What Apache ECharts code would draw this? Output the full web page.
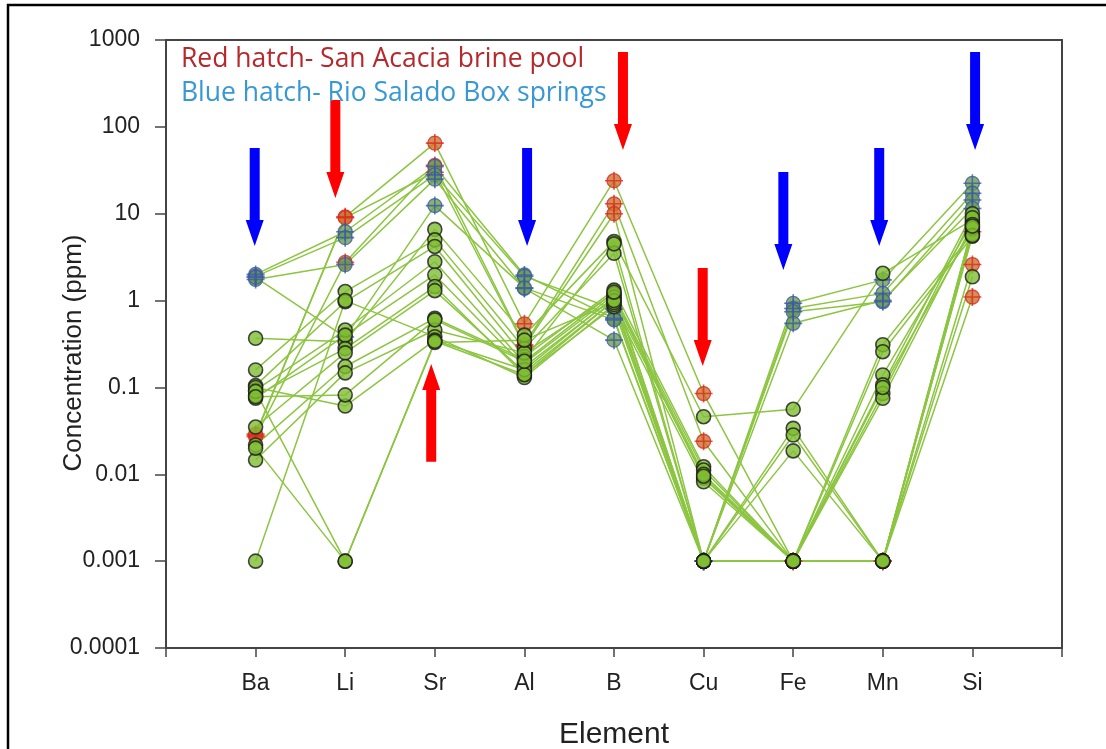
<!DOCTYPE html>
<html><head><meta charset="utf-8">
<script src="https://cdn.jsdelivr.net/npm/echarts@6/dist/echarts.min.js"></script>
<style>html,body{margin:0;padding:0;background:#fff}#chart{width:1106px;height:749px}</style>
</head><body><div id="chart"></div>
<script>
// Categories (x axis)
const elements = ['Ba', 'Li', 'Sr', 'Al', 'B', 'Cu', 'Fe', 'Mn', 'Si'];
// Y tick labels (log axis, 1e-4 .. 1e3)
const yTickLabels = ['0.0001', '0.001', '0.01', '0.1', '1', '10', '100', '1000'];

// Samples: values in element order Ba, Li, Sr, Al, B, Cu, Fe, Mn, Si (ppm)
const redHatchSamples = [
  [0.028, 9.2, 65, 0.54, 24, 0.085, 0.001, 0.001, 2.6],
  [0.027, 2.75, 36, 0.31, 13, 0.024, 0.001, 0.001, 1.1],
  [0.029, 9.0, 30, 0.30, 10, 0.001, 0.001, 0.001, 6.2]
];
const blueHatchSamples = [
  [2.0, 6.2, 35, 1.97, 0.625, 0.001, 0.93, 1.73, 22.4],
  [1.9, 5.3, 28, 1.9, 0.8, 0.001, 0.81, 1.21, 17.2],
  [1.75, 2.6, 25, 1.38, 0.35, 0.001, 0.745, 0.97, 14.4],
  [1.85, 0.38, 12.4, 1.4, 0.6, 0.001, 0.547, 1.0, 11.5]
];
const otherSamples = [
  [0.368, 0.336, 6.6, 0.40, 4.77, 0.046, 0.056, 2.06, 8.47],
  [0.159, 1.27, 5.0, 0.28, 3.5, 0.001, 0.0338, 0.001, 7.08],
  [0.105, 0.97, 4.2, 0.226, 1.32, 0.0122, 0.001, 0.31, 5.94],
  [0.093, 0.458, 2.8, 0.19, 1.16, 0.0112, 0.001, 0.258, 5.5],
  [0.075, 0.40, 1.97, 0.174, 1.07, 0.009, 0.001, 0.139, 8.0],
  [0.08, 0.28, 1.45, 0.139, 0.85, 0.0082, 0.001, 0.107, 10.0],
  [0.035, 0.25, 1.3, 0.15, 1.0, 0.001, 0.0283, 0.001, 1.88],
  [0.0217, 0.174, 0.625, 0.21, 4.5, 0.001, 0.0186, 0.001, 6.5],
  [0.0146, 0.147, 0.458, 0.25, 1.2, 0.001, 0.001, 0.085, 9.0],
  [0.001, 1.0, 0.384, 0.13, 0.9, 0.001, 0.001, 0.075, 7.5],
  [0.1, 0.061, 0.35, 0.16, 1.1, 0.01, 0.001, 0.001, 5.8],
  [0.09, 0.001, 0.33, 0.35, 0.95, 0.0095, 0.001, 0.1, 6.8],
  [0.02, 0.001, 0.34, 0.14, 1.0, 0.001, 0.001, 0.001, 5.6],
  [0.078, 0.082, 0.6, 0.2, 1.25, 0.001, 0.001, 0.001, 7.2]
];

// Annotation arrows: x position (element index units), tail value, tip value, colour group
const arrowX = [0.99, 1.89, 2.96, 4.03, 5.10, 5.99, 6.89, 7.96, 9.03];
const arrowTail = [57, 204, 0.0139, 57, 728, 2.37, 30.2, 57, 728];
const arrowTip = [4.25, 15.2, 0.186, 4.25, 54, 0.177, 2.25, 4.25, 54];
const arrowGroup = ['blue', 'red', 'red', 'blue', 'red', 'red', 'blue', 'blue', 'blue'];

const FONT = "'Liberation Sans', Arial, sans-serif";
const toPoints = s => s.map((v, i) => [i + 1, v]);
const flatPoints = g => g.reduce((acc, s) => acc.concat(toPoints(s)), []);

const allSamples = redHatchSamples.concat(blueHatchSamples, otherSamples);
const lineSeries = allSamples.map(s => ({
  type: 'line', data: toPoints(s), symbol: 'none', silent: true, z: 2,
  lineStyle: { color: '#8cc541', width: 1.5 }, animation: false
}));

const plusPath = 'path://M-0.8,-9L0.8,-9L0.8,-0.8L9,-0.8L9,0.8L0.8,0.8L0.8,9L-0.8,9L-0.8,0.8L-9,0.8L-9,-0.8L-0.8,-0.8Z';

const markerSeries = [
  { type: 'scatter', data: flatPoints(redHatchSamples), symbol: 'circle', symbolSize: 14, z: 3,
    itemStyle: { color: '#c8742f', borderColor: '#d62a22', borderWidth: 1.3 } },
  { type: 'scatter', data: flatPoints(redHatchSamples), symbol: plusPath, symbolSize: 18, z: 3,
    itemStyle: { color: '#de2a1e' } },
  { type: 'scatter', data: flatPoints(blueHatchSamples), symbol: 'circle', symbolSize: 14, z: 4,
    itemStyle: { color: '#6a9e4e', borderColor: '#3c5aa6', borderWidth: 1.3 } },
  { type: 'scatter', data: flatPoints(blueHatchSamples), symbol: plusPath, symbolSize: 18, z: 4,
    itemStyle: { color: '#3c5aa6' } },
  { type: 'scatter', data: flatPoints(otherSamples), symbol: 'circle', symbolSize: 14, z: 5,
    itemStyle: { color: '#80be32', borderColor: '#1a1a1a', borderWidth: 1.6 } }
];

const arrowSeries = {
  type: 'custom', z: 6, silent: true,
  data: arrowX.map((x, i) => [x, arrowTail[i], arrowTip[i], arrowGroup[i] === 'blue' ? 0 : 1]),
  renderItem: function (params, api) {
    const tail = api.coord([api.value(0), api.value(1)]);
    const tip = api.coord([api.value(0), api.value(2)]);
    const col = api.value(3) === 0 ? '#0000ff' : '#ff0000';
    const dir = tip[1] > tail[1] ? 1 : -1;
    const x = tip[0], sw = 5, hw = 9, hl = 26;
    const base = tip[1] - dir * hl;
    return {
      type: 'polygon',
      shape: { points: [[x - sw, tail[1]], [x + sw, tail[1]], [x + sw, base], [x + hw, base], [x, tip[1]], [x - hw, base], [x - sw, base]] },
      style: { fill: col }
    };
  }
};

const option = {
  animation: false,
  backgroundColor: '#ffffff',
  grid: { left: 166, top: 40, right: 44, bottom: 101, outerBoundsMode: 'none', containLabel: false,
    show: true, borderColor: '#444', borderWidth: 2, backgroundColor: 'transparent' },
  xAxis: {
    type: 'value', min: 0, max: 10, interval: 1,
    name: 'Element', nameLocation: 'middle', nameGap: 72,
    nameTextStyle: { fontFamily: FONT, fontSize: 30, color: '#222' },
    axisLine: { show: true, lineStyle: { color: '#444', width: 2 } },
    axisTick: { show: true, length: 9, lineStyle: { color: '#444', width: 1.5 } },
    axisLabel: { margin: 24, fontFamily: FONT, fontSize: 23, color: '#222',
      formatter: v => elements[v - 1] || '' },
    splitLine: { show: false }
  },
  yAxis: {
    type: 'log', logBase: 10, min: 0.0001, max: 1000, interval: 1,
    name: 'Concentration (ppm)', nameLocation: 'middle', nameGap: 79, nameRotate: 90,
    nameMoveOverlap: false,
    nameTextStyle: { fontFamily: FONT, fontSize: 26, color: '#222', padding: [0, 18, 0, 0] },
    axisLine: { show: true, lineStyle: { color: '#444', width: 2 } },
    axisTick: { show: true, length: 11, lineStyle: { color: '#444', width: 1.5 } },
    minorTick: { show: false },
    axisLabel: { margin: 26, fontFamily: FONT, fontSize: 23, color: '#222',
      formatter: v => yTickLabels[Math.round(Math.log10(v)) + 4] },
    splitLine: { show: false }
  },
  graphic: [
    { type: 'polyline', shape: { points: [[8, 749], [8, 5], [1106, 5]] }, style: { stroke: '#000', lineWidth: 2.5, fill: null }, z: 10 },
    { type: 'text', x: 181, y: 59, z: 10, style: { text: 'Red hatch- San Acacia brine pool', font: "26.5px 'Open Sans', sans-serif", fill: '#b5282c', textVerticalAlign: 'middle' } },
    { type: 'text', x: 181, y: 93, z: 10, style: { text: 'Blue hatch- Rio Salado Box springs', font: "26.5px 'Open Sans', sans-serif", fill: '#3898d4', textVerticalAlign: 'middle' } }
  ],
  series: lineSeries.concat(markerSeries, [arrowSeries])
};

const chart = echarts.init(document.getElementById('chart'), null, { renderer: 'canvas' });
chart.setOption(option);
</script></body></html>
